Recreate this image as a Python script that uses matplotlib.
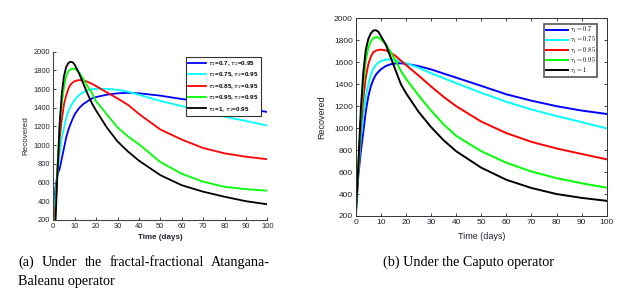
import numpy as np
import matplotlib
matplotlib.use('Agg')
from matplotlib import pyplot as plt
from matplotlib.font_manager import FontProperties

# time grid the curves were read at
t = [0, 1, 2, 3, 4, 5, 6, 7, 8, 9, 10, 12, 14, 16, 18, 20, 25, 30, 35, 40, 50, 60, 70, 80, 90, 100]

# (a) fractal-fractional Atangana-Baleanu, tau2 = 0.95
ab_07 = [200, 550, 690, 750, 860, 970, 1080, 1160, 1225, 1280, 1330, 1395, 1440, 1470, 1500, 1515, 1540, 1555, 1560, 1555, 1530, 1494, 1466, 1430, 1394, 1355]
ab_075 = [150, 450, 700, 920, 1080, 1190, 1290, 1360, 1410, 1450, 1485, 1535, 1568, 1588, 1598, 1604, 1603, 1592, 1572, 1540, 1473, 1419, 1359, 1305, 1259, 1209]
ab_085 = [100, 350, 750, 1080, 1280, 1440, 1530, 1600, 1645, 1670, 1685, 1697, 1693, 1678, 1658, 1632, 1565, 1500, 1430, 1335, 1168, 1060, 970, 913, 877, 850]
ab_095 = [0, 250, 800, 1230, 1450, 1620, 1740, 1790, 1810, 1818, 1818, 1780, 1710, 1630, 1560, 1470, 1330, 1190, 1092, 1010, 820, 695, 610, 555, 530, 513]
ab_1 = [-400, 170, 740, 1240, 1560, 1740, 1835, 1878, 1892, 1888, 1862, 1770, 1660, 1550, 1450, 1370, 1190, 1040, 930, 835, 680, 572, 503, 449, 401, 368]

# (b) Caputo
cp_07 = [200, 560, 780, 960, 1150, 1285, 1380, 1440, 1485, 1512, 1535, 1566, 1582, 1590, 1590, 1586, 1565, 1535, 1497, 1460, 1385, 1308, 1250, 1200, 1160, 1129]
cp_075 = [200, 580, 900, 1110, 1280, 1400, 1485, 1540, 1575, 1596, 1610, 1624, 1627, 1620, 1607, 1592, 1550, 1500, 1455, 1410, 1322, 1240, 1170, 1110, 1055, 998]
cp_085 = [200, 600, 1000, 1260, 1460, 1580, 1650, 1690, 1705, 1712, 1715, 1708, 1685, 1655, 1615, 1575, 1480, 1380, 1285, 1200, 1060, 955, 875, 815, 765, 716]
cp_095 = [200, 620, 1080, 1400, 1620, 1730, 1790, 1818, 1828, 1825, 1810, 1765, 1690, 1610, 1520, 1450, 1300, 1160, 1035, 930, 790, 685, 605, 545, 498, 458]
cp_1 = [200, 640, 1150, 1500, 1710, 1810, 1862, 1888, 1892, 1878, 1840, 1760, 1640, 1520, 1400, 1320, 1150, 1010, 890, 790, 640, 530, 455, 400, 365, 338]

colors = ['blue', 'cyan', 'red', 'lime', 'black']
ab_labels = [r'$\tau_1$=0.7, $\tau_2$=0.95', r'$\tau_1$=0.75, $\tau_2$=0.95',
             r'$\tau_1$=0.85, $\tau_2$=0.95', r'$\tau_1$=0.95, $\tau_2$=0.95',
             r'$\tau_1$=1, $\tau_2$=0.95']
cp_labels = [r'$\tau_1 = 0.7$', r'$\tau_1 = 0.75$', r'$\tau_1 = 0.85$',
             r'$\tau_1 = 0.95$', r'$\tau_1 = 1$']

plt.rcParams['font.family'] = ['Liberation Sans', 'DejaVu Sans']

W, H = 641, 292
fig = plt.figure(figsize=(W/100, H/100), dpi=100)


def box(x0, x1, y0, y1):
    return [x0/W, 1 - y1/H, (x1 - x0)/W, (y1 - y0)/H]


# Left panel
ax1 = fig.add_axes(box(53.3, 267.3, 51.7, 220))
for ys, c, lab in zip([ab_07, ab_075, ab_085, ab_095, ab_1], colors, ab_labels):
    ax1.plot(t, ys, color=c, lw=1.3, label=lab)
ax1.set_xlim(0, 100)
ax1.set_ylim(200, 2000)
ax1.set_xticks(range(0, 101, 10))
ax1.set_yticks(range(200, 2001, 200))
ax1.spines['top'].set_visible(False)
ax1.spines['right'].set_visible(False)
for s in ['left', 'bottom']:
    ax1.spines[s].set_color('#444444')
    ax1.spines[s].set_linewidth(0.8)
ax1.tick_params(direction='in', length=2.5, width=0.6, labelsize=5.4, pad=2, colors='#222233')
ax1.set_xlabel('Time (days)', fontsize=5.8, fontweight='bold', color='#222233')
ax1.set_ylabel('Recovered', fontsize=5.8, color='#222233')
ax1.xaxis.set_label_coords(0.5, -0.085)
ax1.yaxis.set_label_coords(-0.11, 0.5)
prop1 = FontProperties(family='Liberation Sans', weight='bold', size=4.5,
                       math_fontfamily='dejavusans')
leg1 = ax1.legend(loc='upper right', bbox_to_anchor=(0.985, 0.99), prop=prop1,
                  handlelength=2.8, handletextpad=0.35, labelspacing=0.42,
                  borderpad=0.4, fancybox=False, framealpha=1)
leg1.get_frame().set_edgecolor('#333333')
leg1.get_frame().set_linewidth(0.8)

# Right panel
ax2 = fig.add_axes(box(355.7, 606.7, 18.3, 216))
for ys, c, lab in zip([cp_07, cp_075, cp_085, cp_095, cp_1], colors, cp_labels):
    ax2.plot(t, ys, color=c, lw=1.4, label=lab)
ax2.set_xlim(0, 100)
ax2.set_ylim(200, 2000)
ax2.set_xticks(range(0, 101, 10))
ax2.set_yticks(range(200, 2001, 200))
for s in ax2.spines.values():
    s.set_color('#333333')
    s.set_linewidth(0.7)
ax2.tick_params(direction='in', length=2.5, width=0.6, labelsize=6, pad=2,
                top=True, right=True, colors='#222233')
ax2.set_xlabel('Time (days)', fontsize=6.5, color='#222233')
ax2.set_ylabel('Recovered', fontsize=6.5, color='#222233')
ax2.xaxis.set_label_coords(0.5, -0.08)
ax2.yaxis.set_label_coords(-0.118, 0.5)
prop2 = FontProperties(family='DejaVu Serif', size=4.7, math_fontfamily='cm')
leg2 = ax2.legend(loc='upper right', bbox_to_anchor=(0.976, 0.99), prop=prop2,
                  handlelength=3.4, handletextpad=0.3, labelspacing=0.0,
                  borderpad=0.25, fancybox=False, framealpha=1)
leg2.get_frame().set_edgecolor('#555555')
leg2.get_frame().set_linewidth(1.2)

# Captions
cap_font = dict(family='Liberation Serif', fontsize=10.2, color='black', va='baseline')
words = ['(a)', 'Under', 'the', 'fractal-fractional', 'Atangana-']
x_left, x_right, y_base = 18, 270, 266
fig.canvas.draw()
rend = fig.canvas.get_renderer()
objs = [fig.text(0, 1 - y_base/H, w, **cap_font) for w in words]
widths = [o.get_window_extent(rend).width for o in objs]
gap = (x_right - x_left - sum(widths)) / (len(words) - 1)
x = x_left
for o, w in zip(objs, widths):
    o.set_x(x/W)
    x += w + gap
fig.text(x_left/W, 1 - 285/H, 'Baleanu operator', **cap_font)
fig.text(383/W, 1 - y_base/H, '(b) Under the Caputo operator', **cap_font)

fig.savefig('out.png', dpi=100)
